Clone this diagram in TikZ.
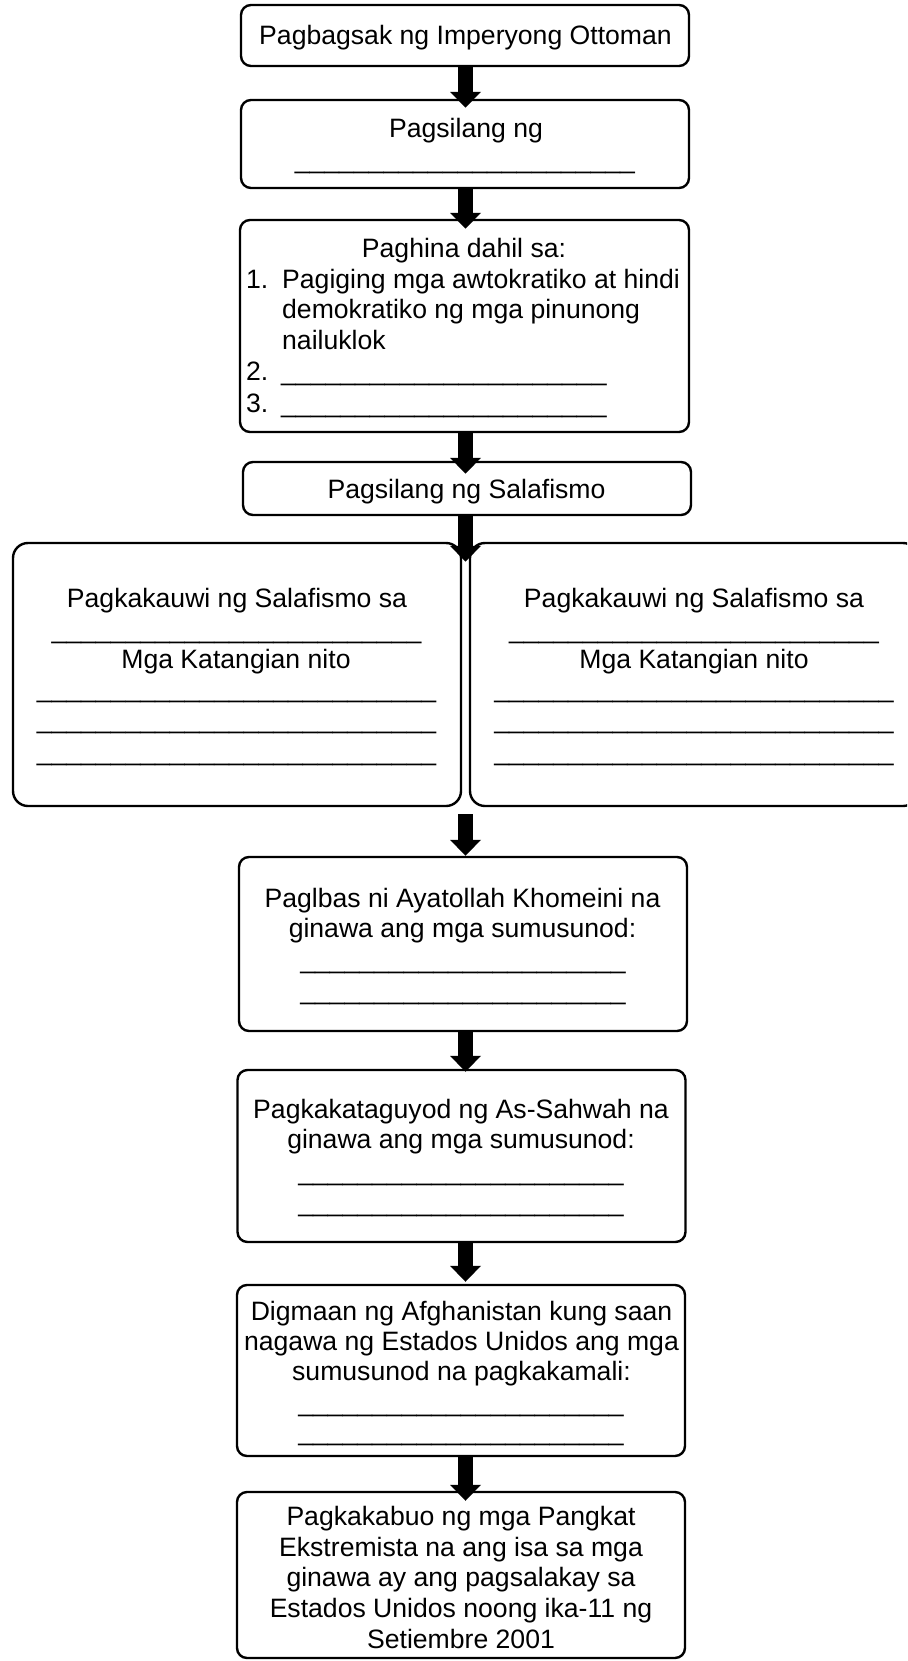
\documentclass[tikz,border=0pt]{standalone}
\usepackage{fontspec}
\setmainfont{Liberation Sans}
\usetikzlibrary{arrows.meta,calc}
\newcount\bcnt
\newcommand\blank[1]{\bcnt=0 \loop\ifnum\bcnt<#1 \_\advance\bcnt by 1 \repeat}
\begin{document}
\begin{tikzpicture}[x=1pt,y=-1pt,
  box/.style={draw, line width=2.4pt, rounded corners=10pt, inner sep=0pt, minimum width=448pt},
  bigbox/.style={box, rounded corners=15pt},
  txt/.style={anchor=base, inner sep=0pt, font=\fontsize{26.6}{30.6}\selectfont},
  fat/.style={line width=15pt, -{Triangle[width=30pt,length=16pt]}}]
\useasboundingbox (0,0) rectangle (907,1661);
\clip (0,0) rectangle (907,1661);
% boxes
\node[box, minimum height=61pt] (b1) at (465,35.5) {};
\node[box, minimum height=88pt] (b2) at (465,144) {};
\node[box, minimum height=212pt, minimum width=449pt] (b3) at (464.5,326) {};
\node[box, minimum height=53pt] (b4) at (467,488.5) {};
\node[bigbox, minimum height=263pt] (b5L) at (237,674.5) {};
\node[bigbox, minimum height=263pt] (b5R) at (694,674.5) {};
\node[box, minimum height=174pt] (b6) at (463,944) {};
\node[box, minimum height=172pt] (b7) at (461.5,1156) {};
\node[box, minimum height=171pt] (b8) at (461,1370.5) {};
\node[box, minimum height=166pt] (b9) at (461,1575) {};
% texts
\node[txt] (t1) at (465.5,45) {Pagbagsak ng Imperyong Ottoman};
\node[txt] (t2a) at (466,138) {Pagsilang ng};
\node[txt] (t2b) at (465,168.3) {\blank{23}};
\node[txt] (t3a) at (464,258) {Paghina dahil sa:};
\node[txt, anchor=base west] (n1) at (246,289) {1.};
\node[txt, anchor=base west] (t3b) at (282,289) {Pagiging mga awtokratiko at hindi};
\node[txt, anchor=base west] (t3c) at (282,319) {demokratiko ng mga pinunong};
\node[txt, anchor=base west] (t3d) at (282,349) {nailuklok};
\node[txt, anchor=base west] (n2) at (246,380) {2.};
\node[txt, anchor=base west] (t3e) at (281,380.3) {\blank{22}};
\node[txt, anchor=base west] (n3) at (246,412) {3.};
\node[txt, anchor=base west] (t3f) at (281,412.3) {\blank{22}};
\node[txt] (t4) at (466.5,498) {Pagsilang ng Salafismo};
% left big box
\node[txt] (l1) at (237,607) {Pagkakauwi ng Salafismo sa};
\node[txt] (l2) at (236.5,638) {\blank{25}};
\node[txt] (l3) at (236,668) {Mga Katangian nito};
\node[txt] (l4) at (236.5,697.5) {\blank{27}};
\node[txt] (l5) at (236.5,728.5) {\blank{27}};
\node[txt] (l6) at (236.5,760) {\blank{27}};
% right big box
\node[txt] (r1) at (694,607) {Pagkakauwi ng Salafismo sa};
\node[txt] (r2) at (694,638) {\blank{25}};
\node[txt] (r3) at (694,668) {Mga Katangian nito};
\node[txt] (r4) at (694,697.5) {\blank{27}};
\node[txt] (r5) at (694,728.5) {\blank{27}};
\node[txt] (r6) at (694,760) {\blank{27}};
% b6
\node[txt] (t6a) at (462.5,907) {Paglbas ni Ayatollah Khomeini na};
\node[txt] (t6b) at (462.5,937) {ginawa ang mga sumusunod:};
\node[txt] (t6c) at (463,968.3) {\blank{22}};
\node[txt] (t6d) at (463,999.3) {\blank{22}};
% b7
\node[txt] (t7a) at (461,1118) {Pagkakataguyod ng As-Sahwah na};
\node[txt] (t7b) at (461,1148) {ginawa ang mga sumusunod:};
\node[txt] (t7c) at (461,1180.3) {\blank{22}};
\node[txt] (t7d) at (461,1211.3) {\blank{22}};
% b8
\node[txt] (t8a) at (461.5,1320) {Digmaan ng Afghanistan kung saan};
\node[txt] (t8b) at (461.5,1350) {nagawa ng Estados Unidos ang mga};
\node[txt] (t8c) at (461.5,1380) {sumusunod na pagkakamali:};
\node[txt] (t8d) at (461,1411.3) {\blank{22}};
\node[txt] (t8e) at (461,1440.3) {\blank{22}};
% b9
\node[txt] (t9a) at (461,1525) {Pagkakabuo ng mga Pangkat};
\node[txt] (t9b) at (461,1556) {Ekstremista na ang isa sa mga};
\node[txt] (t9c) at (461,1586) {ginawa ay ang pagsalakay sa};
\node[txt] (t9d) at (461,1617) {Estados Unidos noong ika-11 ng};
\node[txt] (t9e) at (461,1648) {Setiembre 2001};
% arrows
\coordinate (ax) at (465.5,0);
\coordinate (gap) at ($(b5L.north east)!0.5!(b5R.north west)$);
\draw[fat] (b1.south -| ax) -- ($(b2.north -| ax)+(0,9)$);
\draw[fat] (b2.south -| ax) -- ($(b3.north -| ax)+(0,10)$);
\draw[fat] (b3.south -| ax) -- ($(b4.north -| ax)+(0,13)$);
\draw[fat] (b4.south -| ax) -- ($(gap -| ax)+(0,20)$);
\draw[fat] ($(b5L.south -| ax)+(0,7)$) -- (b6.north -| ax);
\draw[fat] (b6.south -| ax) -- ($(b7.north -| ax)+(0,3)$);
\draw[fat] (b7.south -| ax) -- ($(b8.north -| ax)+(0,-2)$);
\draw[fat] (b8.south -| ax) -- ($(b9.north -| ax)+(0,10)$);
\end{tikzpicture}
\end{document}
